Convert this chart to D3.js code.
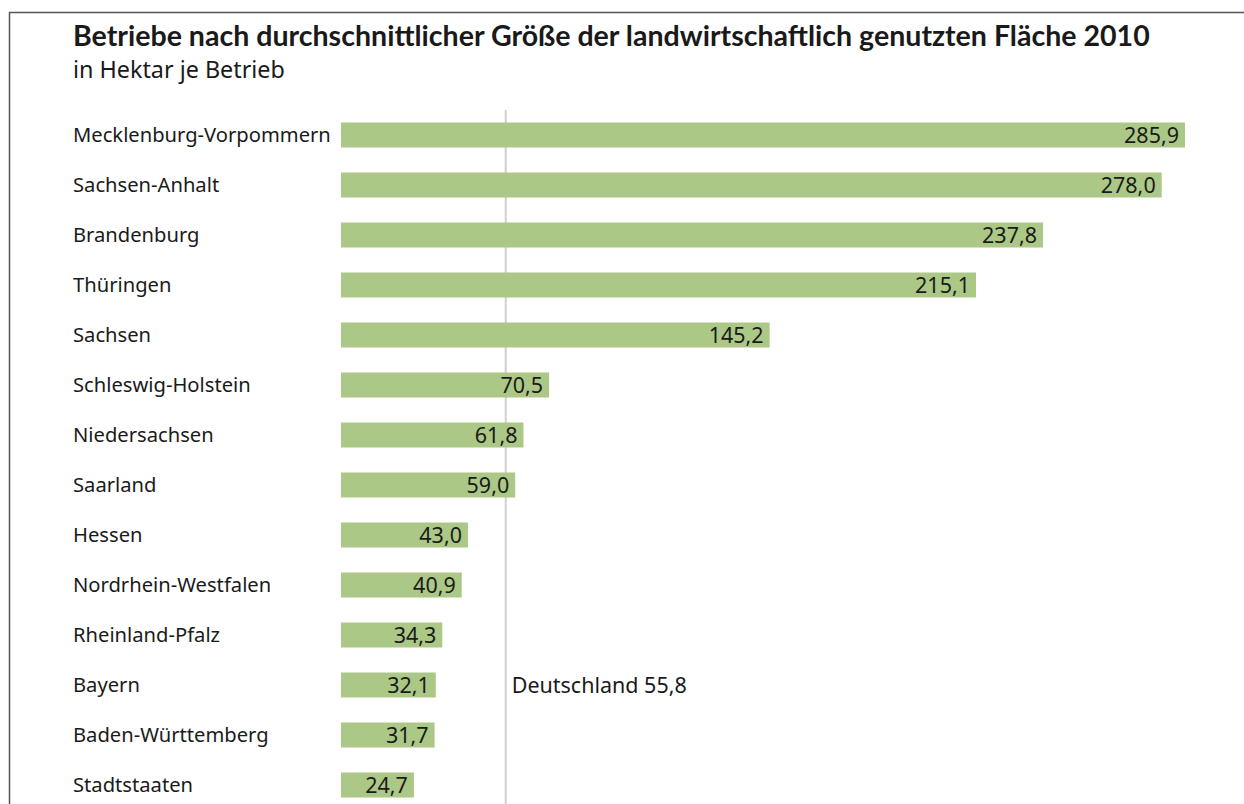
<!DOCTYPE html>
<html>
<head>
<meta charset="utf-8">
<script src="https://cdn.jsdelivr.net/npm/d3@7"></script>
<style>
  body { margin: 0; background: #fff; }
  text { font-family: "Noto Sans", Lato, sans-serif; fill: #1a1a1a; }
</style>
</head>
<body>
<script>
// data
let laender = ["Mecklenburg-Vorpommern", "Sachsen-Anhalt", "Brandenburg", "Thüringen", "Sachsen",
  "Schleswig-Holstein", "Niedersachsen", "Saarland", "Hessen", "Nordrhein-Westfalen",
  "Rheinland-Pfalz", "Bayern", "Baden-Württemberg", "Stadtstaaten"];
let hektar = [285.9, 278.0, 237.8, 215.1, 145.2, 70.5, 61.8, 59.0, 43.0, 40.9, 34.3, 32.1, 31.7, 24.7];
let deutschland = 55.8;
let titel = "Betriebe nach durchschnittlicher Größe der landwirtschaftlich genutzten Fläche 2010";
let untertitel = "in Hektar je Betrieb";

let w = 1244, h = 804;
let fmt = v => v.toFixed(1).replace(".", ",");

let svg = d3.select("body").append("svg").attr("width", w).attr("height", h);

// fit a text node's font size so it spans a given width
function fit(sel, base, width) {
  let tw = sel.node().getComputedTextLength();
  let s = base * width / tw;
  sel.style("font-size", s + "px");
  return s;
}

// frame (top + left edge)
svg.append("path")
  .attr("d", "M9.5," + h + " V12.5 H" + w)
  .attr("fill", "none").attr("stroke", "#555").attr("stroke-width", 1.5);

let x = d3.scaleLinear().domain([0, 285.9]).range([341, 1185]);
let y = d3.scaleBand().domain(laender).range([110, 810]).paddingInner(0.5).paddingOuter(0.25);

let t = svg.append("text").attr("x", 73).attr("y", 46)
  .style("font-family", "Lato, sans-serif")
  .style("font-weight", "bold").style("font-size", "24px").text(titel);
fit(t, 24, 1077);

let st = svg.append("text").attr("x", 73).attr("y", 78).style("font-size", "20px").text(untertitel);
fit(st, 20, 212);

// reference line Deutschland
svg.append("line")
  .attr("x1", x(deutschland)).attr("x2", x(deutschland))
  .attr("y1", 110).attr("y2", h)
  .attr("stroke", "#cfcfcf").attr("stroke-width", 2);

svg.selectAll("rect.bar").data(hektar).enter().append("rect")
  .attr("class", "bar")
  .attr("x", x(0))
  .attr("y", (d, i) => y(laender[i]))
  .attr("width", d => x(d) - x(0))
  .attr("height", y.bandwidth())
  .attr("fill", "#acc886");

let labs = svg.selectAll("text.lab").data(laender).enter().append("text")
  .attr("class", "lab")
  .attr("x", 73)
  .attr("y", d => y(d) + y.bandwidth() / 2)
  .attr("dy", "0.35em")
  .style("font-size", "19px")
  .text(d => d);
let ls = fit(labs.filter((d, i) => i == 0), 19, 258);
labs.style("font-size", ls + "px");

let de = svg.append("text")
  .attr("x", x(deutschland) + 6)
  .attr("y", y("Bayern") + y.bandwidth() / 2)
  .attr("dy", "0.35em")
  .style("font-size", ls + "px")
  .text("Deutschland " + fmt(deutschland));
let vs = fit(de, ls, 175);

svg.selectAll("text.val").data(hektar).enter().append("text")
  .attr("class", "val")
  .attr("x", d => x(d) - 6)
  .attr("y", (d, i) => y(laender[i]) + y.bandwidth() / 2)
  .attr("dy", "0.35em")
  .attr("text-anchor", "end")
  .style("font-size", vs + "px")
  .text(d => fmt(d));
</script>
</body>
</html>
